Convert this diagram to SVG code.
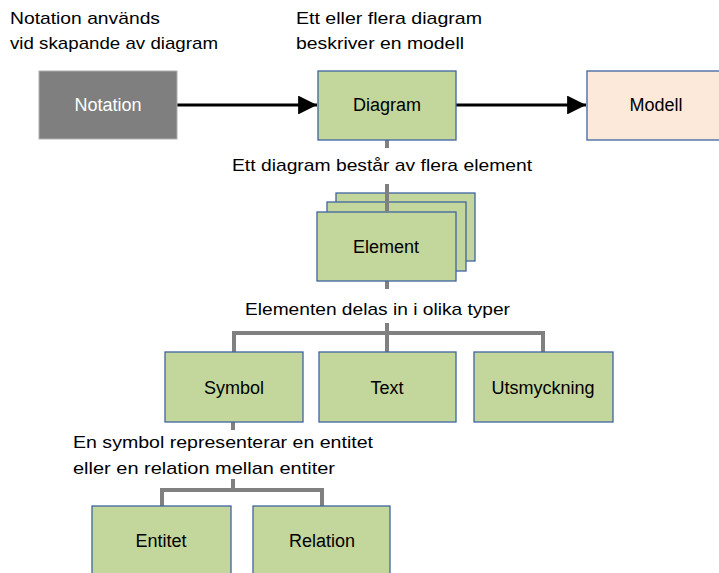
<svg xmlns="http://www.w3.org/2000/svg" width="719" height="573" viewBox="0 0 719 573">
<style>
text{font-family:"Liberation Sans","DejaVu Sans",sans-serif;font-size:17px;fill:#000}
.lbl{text-anchor:middle;font-size:18px}
.g{fill:#c3d69b;stroke:#3f64a0;stroke-width:1.3}
.conn{fill:none;stroke:#808080;stroke-width:4}
.arr{stroke:#000;stroke-width:3;fill:none}
</style>
<defs>
<marker id="ah" viewBox="0 0 10 10" refX="10" refY="5" markerWidth="6.3" markerHeight="6.3" markerUnits="strokeWidth" orient="auto">
<path d="M0,0 L10,5 L0,10 Z" fill="#000"/>
</marker>
</defs>
<rect width="719" height="573" fill="#fff"/>
<text x="10" y="24" textLength="150" lengthAdjust="spacingAndGlyphs">Notation används</text>
<text x="10" y="49" textLength="208" lengthAdjust="spacingAndGlyphs">vid skapande av diagram</text>
<text x="296" y="24" textLength="186" lengthAdjust="spacingAndGlyphs">Ett eller flera diagram</text>
<text x="296" y="49" textLength="168" lengthAdjust="spacingAndGlyphs">beskriver en modell</text>
<g id="connectors">
<line class="arr" x1="177" y1="105" x2="317" y2="105" marker-end="url(#ah)"/>
<line class="arr" x1="456" y1="105" x2="586" y2="105" marker-end="url(#ah)"/>
<line class="conn" x1="387" y1="140" x2="387" y2="148"/>
<line class="conn" x1="387" y1="184" x2="387" y2="212"/>
<line class="conn" x1="387" y1="281" x2="387" y2="289"/>
<polyline class="conn" points="387,323 387,333"/>
<polyline class="conn" points="234,352 234,333 543,333 543,352"/>
<line class="conn" x1="387" y1="333" x2="387" y2="352"/>
<line class="conn" x1="233" y1="422" x2="233" y2="430"/>
<polyline class="conn" points="233,479 233,490"/>
<polyline class="conn" points="162,506 162,490 322,490 322,506"/>
</g>
<text x="232" y="171" textLength="300" lengthAdjust="spacingAndGlyphs">Ett diagram består av flera element</text>
<text x="245" y="315" textLength="265" lengthAdjust="spacingAndGlyphs">Elementen delas in i olika typer</text>
<text x="73" y="448" textLength="300" lengthAdjust="spacingAndGlyphs">En symbol representerar en entitet</text>
<text x="73" y="474" textLength="262" lengthAdjust="spacingAndGlyphs">eller en relation mellan entiter</text>
<g id="notation">
<rect x="39" y="71" width="138" height="68" fill="#7f7f7f" stroke="#b0b0b0" stroke-width="1"/>
<text class="lbl" x="108" y="111" style="fill:#fff">Notation</text>
</g>
<g id="diagram">
<rect class="g" x="318" y="71" width="138" height="69"/>
<text class="lbl" x="387" y="111">Diagram</text>
</g>
<g id="modell">
<rect x="587" y="71" width="138" height="69" fill="#fde9d9" stroke="#3f64a0" stroke-width="1.3"/>
<text class="lbl" x="656" y="111">Modell</text>
</g>
<g id="element">
<rect class="g" x="336" y="193" width="139" height="68"/>
<rect class="g" x="327" y="202" width="139" height="69"/>
<rect class="g" x="317" y="212" width="139" height="69"/>
<line class="conn" x1="387" y1="184" x2="387" y2="212"/>
<text class="lbl" x="386" y="253">Element</text>
</g>
<g id="symbol">
<rect class="g" x="165" y="352" width="138" height="70"/>
<text class="lbl" x="234" y="394">Symbol</text>
</g>
<g id="text">
<rect class="g" x="319" y="352" width="137" height="70"/>
<text class="lbl" x="387" y="394">Text</text>
</g>
<g id="utsmyckning">
<rect class="g" x="474" y="352" width="139" height="70"/>
<text class="lbl" x="543" y="394">Utsmyckning</text>
</g>
<g id="entitet">
<rect class="g" x="92" y="506" width="139" height="70"/>
<text class="lbl" x="161" y="547">Entitet</text>
</g>
<g id="relation">
<rect class="g" x="253" y="506" width="137" height="70"/>
<text class="lbl" x="322" y="547">Relation</text>
</g>
</svg>
